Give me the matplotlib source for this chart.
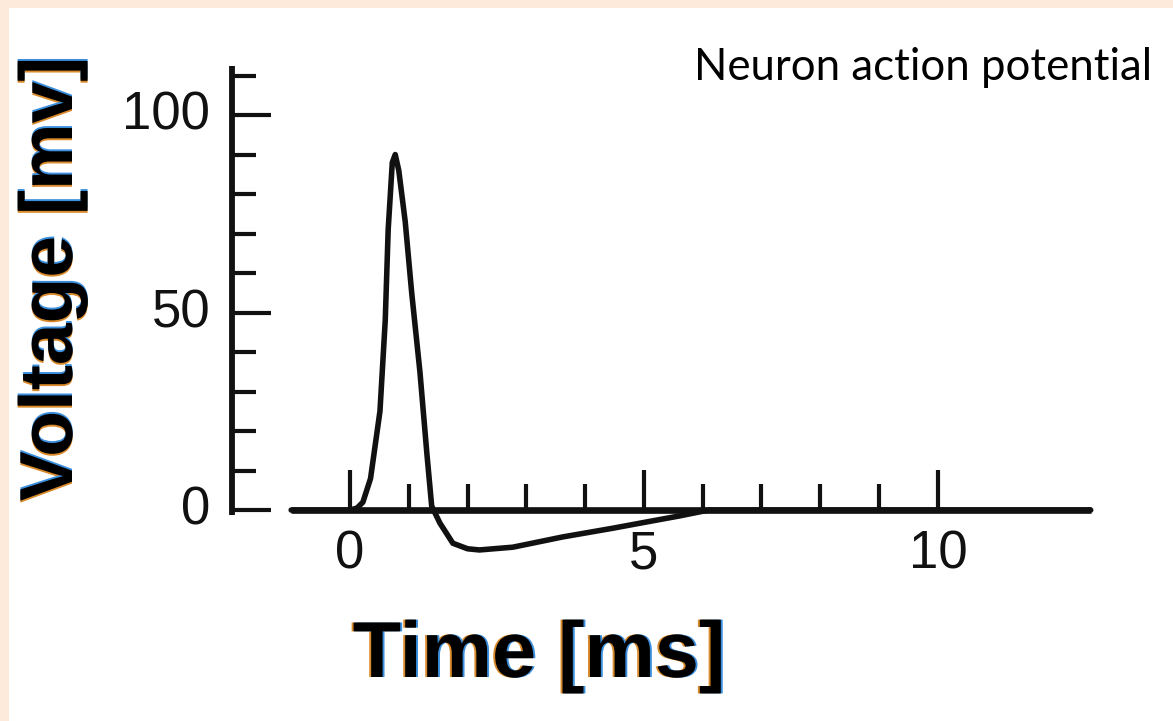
import numpy as np
import matplotlib
matplotlib.use("Agg")
import matplotlib.pyplot as plt
import matplotlib.patheffects as pe
from matplotlib.ticker import FixedLocator
from matplotlib.transforms import ScaledTranslation

# membrane voltage trace of a single spike
t_ms = [-1.0, 0.0, 0.12, 0.22, 0.35, 0.51, 0.60, 0.65, 0.72, 0.77, 0.83, 0.94,
        1.05, 1.19, 1.31, 1.39, 1.53, 1.75, 2.0, 2.2, 2.77, 3.62, 4.47, 5.05,
        5.6, 6.1, 8.0, 12.6]
v_mv = [0, 0, 0.5, 2, 8, 25, 48, 71, 88, 90, 86, 73,
        55, 35, 14, 1, -3.3, -8.4, -9.8, -10.1, -9.4, -6.8, -4.6, -3.0,
        -1.5, 0, 0, 0]

x_major = [0, 5, 10]
x_minor = [1, 2, 3, 4, 6, 7, 8, 9]
y_major = [0, 50, 100]
y_minor = [10, 20, 30, 40, 60, 70, 80, 90, 110]

W, H = 1173, 721
fig = plt.figure(figsize=(W / 100, H / 100), dpi=100)
fig.patch.set_facecolor('#fdeadb')

ax = fig.add_axes([9 / W, 0, 1 - 9 / W, 1 - 8 / H])
ax.set_facecolor('white')
ax.set_xlim(-5.8, 14.0)
ax.set_ylim(-53.4, 127.1)

ax.plot(t_ms, v_mv, color='#111111', lw=4.0, solid_joinstyle='round',
        solid_capstyle='round', zorder=3)

# hand drawn style axes: spines crossing away from the origin
for side in ['top', 'right']:
    ax.spines[side].set_visible(False)
ax.spines['left'].set_position(('data', -2.0))
ax.spines['left'].set_bounds(-1.3, 112.4)
ax.spines['left'].set_linewidth(4.2)
ax.spines['bottom'].set_position(('data', 0))
ax.spines['bottom'].set_bounds(-1.0, 12.6)
ax.spines['bottom'].set_linewidth(4.8)
for s in ['left', 'bottom']:
    ax.spines[s].set_color('#111111')
    ax.spines[s].set_capstyle('butt')

ax.xaxis.set_major_locator(FixedLocator(x_major))
ax.xaxis.set_minor_locator(FixedLocator(x_minor))
ax.yaxis.set_major_locator(FixedLocator(y_major))
ax.yaxis.set_minor_locator(FixedLocator(y_minor))

tick_font = {'family': ['Liberation Sans', 'DejaVu Sans'], 'size': 38}
ax.set_xticklabels([str(v) for v in x_major], fontdict=tick_font)
ax.set_yticklabels([str(v) for v in y_major], fontdict=tick_font)

ax.tick_params(axis='x', which='major', direction='in', length=29, width=3,
               pad=14, color='#111111', labelcolor='#111111')
ax.tick_params(axis='x', which='minor', direction='in', length=19, width=3,
               color='#111111')
ax.tick_params(axis='y', which='major', direction='in', length=28, width=3,
               pad=16, color='#111111', labelcolor='#111111')
ax.tick_params(axis='y', which='minor', direction='in', length=17, width=3,
               color='#111111')

# y numbers sit a little above their ticks
lift = ScaledTranslation(0, 5 / 100, fig.dpi_scale_trans)
for lbl in ax.get_yticklabels():
    lbl.set_transform(lbl.get_transform() + lift)


def fringe(horizontal):
    # orange / blue colour fringe on either side of the black glyphs
    d = 1.4
    a, b = ((-d, 0), (d, 0)) if horizontal else ((0, -d), (0, d))
    return [pe.SimplePatchShadow(offset=a, shadow_rgbFace='#d98a2b', alpha=1),
            pe.SimplePatchShadow(offset=b, shadow_rgbFace='#3b8fdc', alpha=1),
            pe.Normal()]


label_kw = dict(family=['Liberation Sans', 'DejaVu Sans'], weight='bold',
                color='black')
fig.text(539 / W, 1 - 677 / H, 'Time [ms]', ha='center', va='baseline',
         fontsize=57, path_effects=fringe(True), **label_kw)
fig.text(72 / W, 1 - 279 / H, 'Voltage [mv]', ha='center', va='baseline',
         rotation=90, rotation_mode='anchor', fontsize=54,
         path_effects=fringe(False), **label_kw)

fig.text(1152 / W, 1 - 80 / H, 'Neuron action potential', ha='right',
         va='baseline', fontsize=31.5, color='black',
         family=['Lato', 'DejaVu Sans'])

fig.savefig('out.png', dpi=100, facecolor=fig.get_facecolor())
